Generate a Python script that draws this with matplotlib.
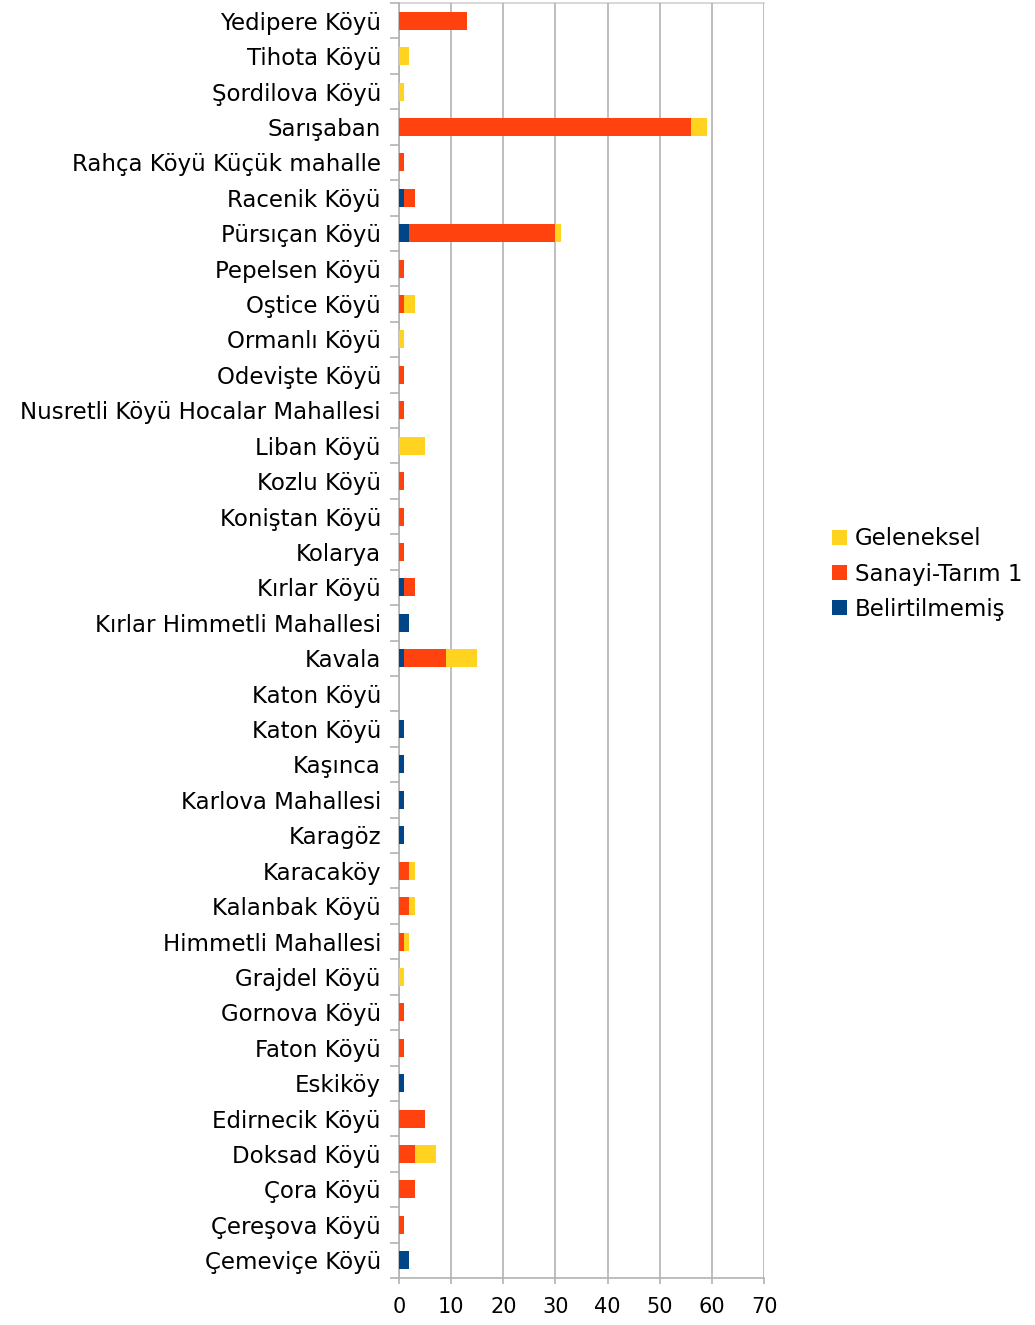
import matplotlib
matplotlib.use("Agg")
import matplotlib.pyplot as plt
import numpy as np

plt.rcParams["font.family"] = ["DejaVu Sans"]

# categories, top to bottom as shown
VILLAGES = ["Yedipere Köyü", "Tihota Köyü", "Şordilova Köyü", "Sarışaban",
            "Rahça Köyü Küçük mahalle", "Racenik Köyü", "Pürsıçan Köyü",
            "Pepelsen Köyü", "Oştice Köyü", "Ormanlı Köyü", "Odevişte Köyü",
            "Nusretli Köyü Hocalar Mahallesi", "Liban Köyü", "Kozlu Köyü",
            "Koniştan Köyü", "Kolarya", "Kırlar Köyü", "Kırlar Himmetli Mahallesi",
            "Kavala", "Katon Köyü", "Katon Köyü", "Kaşınca", "Karlova Mahallesi",
            "Karagöz", "Karacaköy", "Kalanbak Köyü", "Himmetli Mahallesi",
            "Grajdel Köyü", "Gornova Köyü", "Faton Köyü", "Eskiköy",
            "Edirnecik Köyü", "Doksad Köyü", "Çora Köyü", "Çereşova Köyü",
            "Çemeviçe Köyü"]

belirtilmemis = [0, 0, 0, 0, 0, 1, 2, 0, 0, 0, 0, 0, 0, 0, 0, 0, 1, 2,
                 1, 0, 1, 1, 1, 1, 0, 0, 0, 0, 0, 0, 1, 0, 0, 0, 0, 2]
sanayi_tarim = [13, 0, 0, 56, 1, 2, 28, 1, 1, 0, 1, 1, 0, 1, 1, 1, 2, 0,
                8, 0, 0, 0, 0, 0, 2, 2, 1, 0, 1, 1, 0, 5, 3, 3, 1, 0]
geleneksel = [0, 2, 1, 3, 0, 0, 1, 0, 2, 1, 0, 0, 5, 0, 0, 0, 0, 0,
              6, 0, 0, 0, 0, 0, 1, 1, 1, 1, 0, 0, 0, 0, 4, 0, 0, 0]

SERIES = [
    ("Belirtilmemiş", belirtilmemis, "#004586"),
    ("Sanayi-Tarım 1", sanayi_tarim, "#ff420e"),
    ("Geleneksel", geleneksel, "#ffd320"),
]

GRID = "#b3b3b3"


def main():
    fig = plt.figure(figsize=(10.35, 13.25), dpi=100)
    ax = fig.add_axes([399 / 1035, 1 - 1278 / 1325, 365 / 1035, 1275 / 1325])

    n = len(VILLAGES)
    y = np.arange(n)[::-1]
    left = np.zeros(n)
    handles = []
    for label, vals, color in SERIES:
        vals = np.array(vals, dtype=float)
        h = ax.barh(y, vals, height=0.51, left=left, color=color, label=label,
                    zorder=3)
        handles.append(h)
        left += vals

    ax.set_xlim(0, 70)
    ax.set_ylim(-0.5, n - 0.5)
    ax.set_xticks(np.arange(0, 71, 10))
    ax.set_yticks(y)
    ax.set_yticklabels(VILLAGES)
    ax.set_yticks(np.arange(-0.5, n, 1.0), minor=True)
    ax.tick_params(axis="y", which="major", length=0, pad=13, labelsize=16.5)
    ax.tick_params(axis="y", which="minor", length=6.5, color=GRID, width=1.2)
    ax.tick_params(axis="x", length=4.5, color=GRID, width=1.2,
                   labelsize=15, pad=9)
    ax.grid(axis="x", color=GRID, linewidth=1.2, zorder=0)
    ax.spines["right"].set_visible(False)
    for side in ["left", "bottom", "top"]:
        ax.spines[side].set_color(GRID)
        ax.spines[side].set_linewidth(1.2)
    ax.spines["top"].set_alpha(0.6)

    fig.legend(handles[::-1], [s[0] for s in SERIES][::-1],
               loc="center left", bbox_to_anchor=(811 / 1035, 1 - 574 / 1325),
               frameon=False, fontsize=16.5, handlelength=0.65, handleheight=0.65,
               handletextpad=0.35, labelspacing=0.53)

    fig.savefig("out.png", dpi=100)
    plt.close(fig)


if __name__ == "__main__":
    main()
